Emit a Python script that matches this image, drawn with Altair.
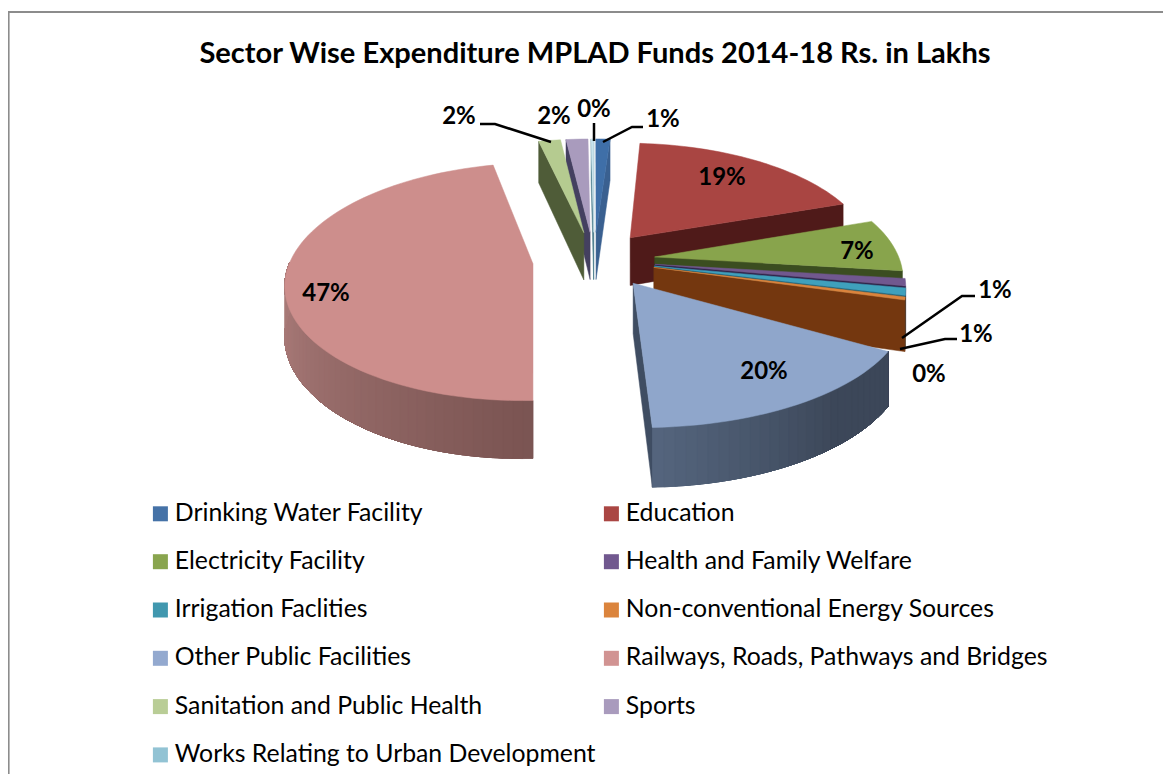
import math
import altair as alt
import pandas as pd

# ---- data ----
categories = ["Drinking Water Facility", "Education", "Electricity Facility", "Health and Family Welfare",
              "Irrigation Faclities", "Non-conventional Energy Sources", "Other Public Facilities",
              "Railways, Roads, Pathways and Bridges", "Sanitation and Public Health", "Sports",
              "Works Relating to Urban Development"]
values = [1.1, 18.6, 7.2, 1.0, 1.0, 0.4, 20.1, 47.0, 1.7, 1.7, 0.2]
legend_colors = ["#4572A7", "#AA4643", "#89A54E", "#71588F", "#4198AF", "#DB843D", "#93A9CF", "#D19392",
                 "#B9CD96", "#A99BBD", "#92C3D4"]
top_colors = ["#3F6FA8", "#A94542", "#88A44C", "#71588F", "#3FA0BC", "#DB843D", "#8FA6CB", "#CD8E8C",
              "#B5CB90", "#A99BBD", "#C9E3EC"]
face_colors = ["#3A6090", "#4F1A19", "#3B4D20", "#2F2248", "#1F5A6C", "#74370F", "#3F4D62", "#7B5553",
               "#4F5C38", "#444060", "#4A7C8C"]
side_near = {6: "#566780", 7: "#7B5553"}
side_far = {6: "#3C4759", 7: "#A87A78"}
title_text = "Sector Wise Expenditure MPLAD Funds 2014-18 Rs. in Lakhs"

# ---- layout ----
W, H = 1155, 766
CX, CY, RX, RY, P, EXPL, DEPTH = 594, 260, 245, 115, 0.15, 0.25, 49
FRONT_START = math.radians(121)   # foreshortened start of the front wedge
STRETCH = {6: 1.07, 7: 0.99}
FONT = "Lato"
label_pos = {
    "Drinking Water Facility": (663, 118), "Education": (722, 176), "Electricity Facility": (857, 250),
    "Health and Family Welfare": (995, 289), "Irrigation Faclities": (976, 333),
    "Non-conventional Energy Sources": (929, 373), "Other Public Facilities": (764, 370),
    "Railways, Roads, Pathways and Bridges": (326, 292), "Sanitation and Public Health": (459, 115),
    "Sports": (554, 115), "Works Relating to Urban Development": (594, 108),
}
leaders = [
    [(603, 142), (632, 127), (643, 127)],
    [(594, 141), (594, 123)],
    [(551, 142), (495, 124), (480, 124)],
    [(902, 338), (962, 296), (975, 296)],
    [(900, 349), (945, 339), (957, 339)],
]


def project(xm, ym, drop=0.0):
    w = 1 + P * ym
    return CX + RX * xm / w, CY - RY * ym / w + drop / w


def mix(c1, c2, t):
    a = [int(c1[i:i + 2], 16) for i in (1, 3, 5)]
    b = [int(c2[i:i + 2], 16) for i in (1, 3, 5)]
    t = min(1.0, max(0.0, t))
    return "#" + "".join(f"{round(x + (y - x) * t):02x}" for x, y in zip(a, b))


rows = []
pid = [0]


def add_poly(points, color):
    pid[0] += 1
    for i, (x, y) in enumerate(points):
        rows.append({"poly": f"p{pid[0]:05d}", "seq": i, "x": x, "y": y, "fill": color})


total = sum(values)
cum = 0.0
wedges = []
for v in values:
    a0 = 2 * math.pi * cum / total
    cum += v
    wedges.append((a0, 2 * math.pi * cum / total))

paint_order = [9, 8, 10, 0, 1, 2, 3, 4, 5, 6, 7]
for idx in paint_order:
    a0, a1 = wedges[idx]
    mid = (a0 + a1) / 2
    ox, oy = EXPL * math.sin(mid), EXPL * math.cos(mid)
    kx = STRETCH.get(idx, 1.0)
    if idx == 6:
        a0 = FRONT_START
    n = max(3, int((a1 - a0) / math.radians(2.0)))
    angs = [a0 + (a1 - a0) * i / n for i in range(n + 1)]
    rim = [(ox + kx * math.sin(a), oy + math.cos(a)) for a in angs]
    apex = (ox, oy)
    # cut faces turned to the viewer
    if math.sin(a0) < 0:
        add_poly([project(*apex), project(*rim[0]), project(*rim[0], DEPTH), project(*apex, DEPTH)], face_colors[idx])
    if math.sin(a1) > 0:
        add_poly([project(*apex), project(*rim[-1]), project(*rim[-1], DEPTH), project(*apex, DEPTH)], face_colors[idx])
    # outer wall, only the part turned to the viewer
    if idx in (5, 6, 7):
        vis = [i for i in range(n) if math.cos((angs[i] + angs[i + 1]) / 2) < 0.02]
        if vis:
            first, last = vis[0], vis[-1] + 1
            add_poly([project(*rim[i]) for i in range(first, last + 1)] +
                     [project(*rim[i], DEPTH) for i in range(last, first - 1, -1)], face_colors[idx])
            if idx in (6, 7):
                # each band reaches to the end of the wall, later bands overpaint it
                order = vis if idx == 7 else vis[::-1]
                for i in order:
                    am = (angs[i] + angs[i + 1]) / 2
                    if idx == 6:
                        col = mix(side_near[6], side_far[6], (math.pi - am) / 0.7)
                        span = range(first, i + 2)
                    else:
                        col = mix(side_near[7], side_far[7], (am - math.pi) / 1.3)
                        span = range(i, last + 1)
                    pts = [project(*rim[j]) for j in span] + [project(*rim[j], DEPTH) for j in reversed(span)]
                    add_poly(pts, col)
    # top
    add_poly([project(*apex)] + [project(*p) for p in rim], top_colors[idx])

poly_df = pd.DataFrame(rows)

xs = alt.X("x:Q", scale=alt.Scale(domain=[8, 8 + W], range=[0, W]), axis=None)
ys = alt.Y("y:Q", scale=alt.Scale(domain=[8, 8 + H], range=[0, H]), axis=None)

polys = alt.Chart(poly_df).mark_line(filled=True, strokeWidth=0.5, opacity=1, interpolate="linear-closed").encode(
    x=xs, y=ys, detail="poly:N", order=alt.Order("seq:Q"),
    fill=alt.Fill("fill:N", scale=None), stroke=alt.Stroke("fill:N", scale=None),
)

frame_df = pd.DataFrame([
    {"x": 8.6, "y": 12, "x2": 8.6, "y2": 8 + H},
    {"x": 8, "y": 12, "x2": 8 + W, "y2": 12},
])
frame = alt.Chart(frame_df).mark_rule(color="#8C8C8C", strokeWidth=2).encode(x=xs, y=ys, x2="x2:Q", y2="y2:Q")

leader_rows = []
for k, line in enumerate(leaders):
    for i, (x, y) in enumerate(line):
        leader_rows.append({"id": k, "seq": i, "x": x, "y": y})
leader_layer = alt.Chart(pd.DataFrame(leader_rows)).mark_line(color="black", strokeWidth=2.5).encode(
    x=xs, y=ys, detail="id:N", order=alt.Order("seq:Q"))

label_df = pd.DataFrame([
    {"text": f"{round(v)}%", "x": label_pos[c][0], "y": label_pos[c][1]} for c, v in zip(categories, values)
])
labels = alt.Chart(label_df).mark_text(font=FONT, fontSize=24, fontWeight="bold", color="black", dy=2,
                                       align="center", baseline="middle").encode(x=xs, y=ys, text="text:N")

title = alt.Chart(pd.DataFrame([{"text": title_text, "x": 595, "y": 54}])).mark_text(
    font=FONT, fontSize=29.05, fontWeight="bold", color="black", align="center", baseline="middle"
).encode(x=xs, y=ys, text="text:N")

legend_layer = alt.Chart(pd.DataFrame({"category": categories})).mark_square(size=0, opacity=0).encode(
    x=alt.value(0), y=alt.value(0),
    color=alt.Color("category:N", scale=alt.Scale(domain=categories, range=legend_colors),
                    legend=alt.Legend(title=None, orient="none", legendX=140, legendY=493, columns=2,
                                      direction="horizontal",
                                      symbolType="square", symbolSize=225, symbolOpacity=1, symbolStrokeWidth=0,
                                      labelFont=FONT, labelFontSize=24.8, labelColor="black", labelLimit=600,
                                      labelOffset=2, rowPadding=22.3, columnPadding=2, gridAlign="all")),
)

chart = alt.layer(frame, polys, leader_layer, labels, title, legend_layer).properties(
    width=W, height=H, padding=0, autosize=alt.AutoSizeParams(type="none"), background="white"
).configure_view(stroke=None)

chart.save("out.html", embed_options={"renderer": "svg", "actions": False})
